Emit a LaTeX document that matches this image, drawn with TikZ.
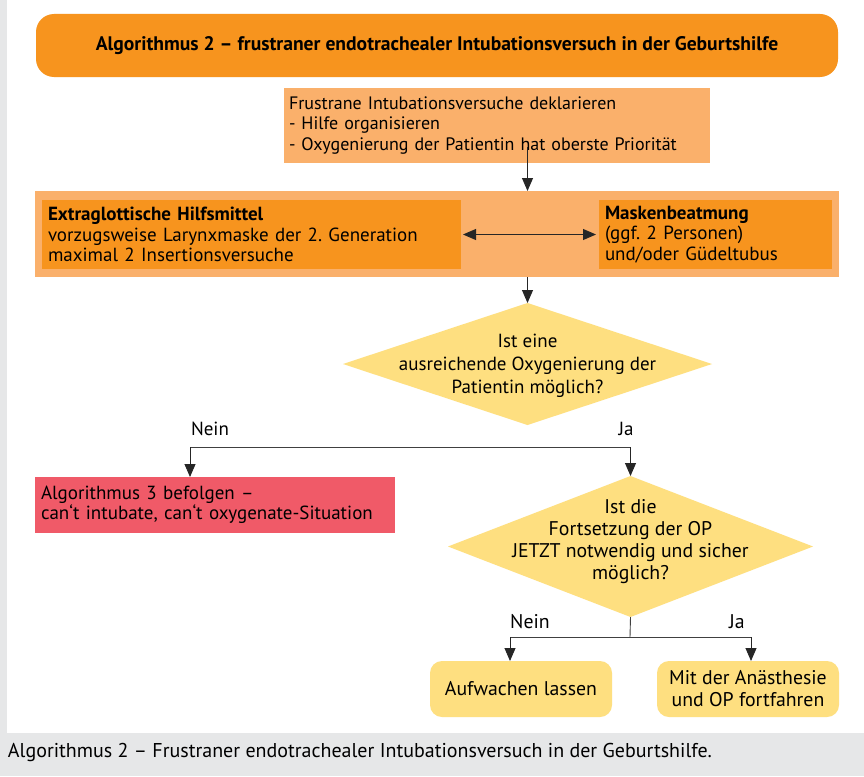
\documentclass[tikz,border=0pt]{standalone}
\usepackage{fontspec}
\setmainfont{PT Sans}
\usepackage{tikz}
\usepackage{xcolor}
\usetikzlibrary{positioning,arrows.meta,shapes.geometric,calc}
\definecolor{headorange}{HTML}{F7941E}
\definecolor{softorange}{HTML}{FAB06B}
\definecolor{askyellow}{HTML}{FEDF80}
\definecolor{alarmred}{HTML}{F05A68}
\definecolor{panelgray}{HTML}{E6E7E8}
\frenchspacing
\newcommand{\flowfont}{\fontsize{19}{20.5}\selectfont}
\newcommand{\narrowfont}{\fontsize{18}{20.5}\selectfont}
\newcommand{\widefont}{\fontsize{19.8}{22}\selectfont}

\tikzset{
  headbox/.style={rectangle, rounded corners=18pt, fill=headorange, minimum width=802pt, minimum height=63pt, font=\bfseries\fontsize{19.6}{22}\selectfont},
  stepbox/.style={rectangle, fill=softorange, inner xsep=5pt, align=left},
  optionbox/.style={rectangle, fill=headorange, inner xsep=6pt, align=left, minimum height=69pt},
  alarmbox/.style={rectangle, fill=alarmred, inner xsep=6pt, align=left, minimum height=56pt},
  decision/.style={diamond, fill=askyellow, inner sep=0pt},
  endbox/.style={rectangle, rounded corners=12pt, fill=askyellow, minimum width=182pt, minimum height=56pt, align=center, font=\widefont},
  flow/.style={-{Triangle[length=13pt,width=11pt]}, line width=0.9pt, draw=black!85, fill=black!85},
  branch/.style={line width=0.9pt, draw=black!75},
}

\begin{document}
\begin{tikzpicture}[x=1pt, y=-1pt, every node/.style={inner sep=0pt, outer sep=0pt, font=\flowfont}]
  % page
  \fill[panelgray] (0,0) rectangle (864,776);
  \fill[white] (7,0) rectangle (864,733);
  \useasboundingbox (0,0) rectangle (864,776);

  % header and first step
  \node[headbox] (head) at (437,45.5) {Algorithmus 2 -- frustraner endotrachealer Intubationsversuch in der Geburtshilfe};
  \node[stepbox, minimum width=426pt, minimum height=75pt, text width=416pt, font=\narrowfont] (declare) at (497,125.5)
    {Frustrane Intubationsversuche deklarieren\\- Hilfe organisieren\\- Oxygenierung der Patientin hat oberste Priorität};

  % airway options
  \node[stepbox, minimum width=804pt, minimum height=86pt] (band) at (437,234) {};
  \node[optionbox, minimum width=419pt, text width=407pt] (sga) at (251.5,234.5)
    {\textbf{Extraglottische Hilfsmittel}\\vorzugsweise Larynxmaske der 2. Generation\\maximal 2 Insertionsversuche};
  \node[optionbox, minimum width=233pt, text width=221pt] (mask) at (715.5,234.5)
    {\textbf{Maskenbeatmung}\\(ggf. 2 Personen)\\und/oder Güdeltubus};

  % first decision
  \node[decision, minimum width=369pt, minimum height=122pt] (oxy) at (527.5,364) {};
  \node[align=center, font=\fontsize{19}{23}\selectfont] (oxytext) at (527.5,366) {Ist eine\\ausreichende Oxygenierung der\\Patientin möglich?};

  \node[alarmbox, minimum width=360pt, text width=348pt] (cico) at (215,505)
    {Algorithmus 3 befolgen --\\can‘t intubate, can‘t oxygenate-Situation};

  % second decision
  \node[decision, minimum width=365pt, minimum height=141pt] (goon) at (630.5,546.5) {};
  \node[align=center, font=\widefont] (goontext) at (630.5,542) {Ist die\\Fortsetzung der OP\\JETZT notwendig und sicher\\möglich?};

  \node[endbox] (wake) at (521,689) {Aufwachen lassen};
  \node[endbox] (proceed) at (748,689) {Mit der Anästhesie\\und OP fortfahren};

  % branch points
  \coordinate (no1) at (190,447);
  \coordinate (yes1) at (goon.north |- no1);
  \coordinate (split2) at (630,637);
  \coordinate (no2) at (510,637);
  \coordinate (yes2) at (751,637);

  \node (no1label) at (210,429) {Nein};
  \node (yes1label) at (626,429) {Ja};
  \node[font=\widefont] (no2label) at (530,622) {Nein};
  \node[font=\widefont] (yes2label) at (737,622) {Ja};

  % connectors
  \draw[flow] ($(declare.south -| oxy.north)+(0,-16)$) -- (band.north -| oxy.north);
  \draw[{Triangle[length=13pt,width=11pt]}-{Triangle[length=13pt,width=11pt]}, line width=0.9pt, draw=black!85, fill=black!85]
    ($(sga.east)+(2,0)$) -- ($(mask.west)+(-3,0)$);
  \draw[flow] (band.south -| oxy.north) -- (oxy.north);
  \draw[branch] (no1) -- (yes1);
  \draw[flow] (no1) -- (cico.north -| no1);
  \draw[flow] (yes1) -- (goon.north);
  \draw[branch] (goon.south) -- (split2);
  \draw[branch] (no2) -- (yes2);
  \draw[flow] (no2) -- (wake.north -| no2);
  \draw[flow] (yes2) -- (proceed.north -| yes2);

  % caption
  \node[anchor=west, font=\fontsize{20}{22}\selectfont] (caption) at (8,752) {Algorithmus 2 -- Frustraner endotrachealer Intubationsversuch in der Geburtshilfe.};
\end{tikzpicture}
\end{document}
